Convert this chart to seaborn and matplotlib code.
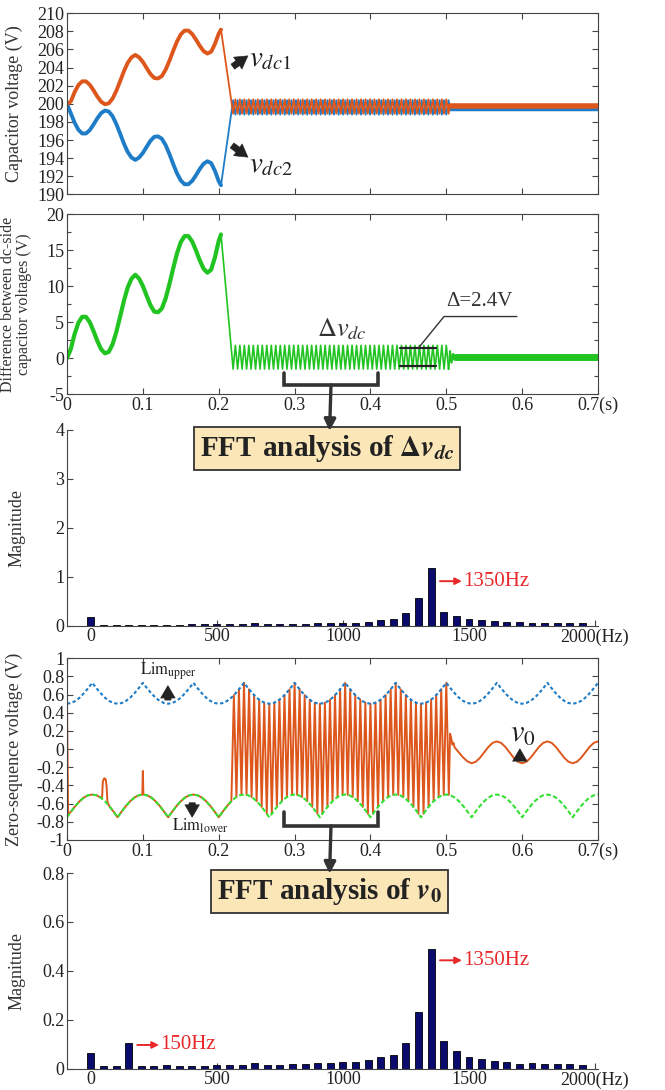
import numpy as np
import matplotlib
matplotlib.use("Agg")
import matplotlib.pyplot as plt
import seaborn as sns

# ------------------------------------------------------------------ data
# Panel 1/2 : early transient (0 - 0.203 s)
t_early = [0.000, 0.005, 0.010, 0.015, 0.020, 0.025, 0.030, 0.035, 0.040, 0.045,
           0.050, 0.055, 0.060, 0.065, 0.070, 0.075, 0.080, 0.085, 0.090, 0.095,
           0.100, 0.105, 0.110, 0.115, 0.120, 0.125, 0.130, 0.135, 0.140, 0.145,
           0.150, 0.155, 0.160, 0.165, 0.170, 0.175, 0.180, 0.185, 0.190, 0.195,
           0.200, 0.203]
vdc1_early = [200.0, 200.25, 201.28, 202.07, 202.48, 202.48, 202.11, 201.49, 200.80, 200.23,
              199.95, 200.05, 200.56, 201.43, 202.49, 203.59, 204.52, 205.13, 205.40, 205.14,
              204.63, 203.95, 203.29, 202.85, 202.80, 203.06, 203.76, 204.75, 205.85, 206.89,
              207.67, 208.09, 208.09, 207.72, 207.10, 206.41, 205.83, 205.55, 205.75, 206.60,
              207.75, 208.20]
vdc2_early = [200.0, 198.95, 197.92, 197.13, 196.72, 196.72, 197.09, 197.71, 198.40, 198.97,
              199.25, 199.15, 198.64, 197.77, 196.71, 195.61, 194.68, 194.07, 193.80, 194.06,
              194.57, 195.25, 195.91, 196.35, 196.40, 196.14, 195.44, 194.45, 193.35, 192.31,
              191.53, 191.11, 191.11, 191.48, 192.10, 192.79, 193.37, 193.65, 193.45, 192.60,
              191.45, 191.00]
dvdc_early = [0.00, 1.29, 3.36, 4.93, 5.76, 5.76, 5.02, 3.78, 2.40, 1.26,
              0.69, 0.89, 1.92, 3.65, 5.78, 7.97, 9.83, 11.05, 11.60, 11.07,
              10.05, 8.69, 7.38, 6.49, 6.40, 6.91, 8.31, 10.29, 12.50, 14.57,
              16.14, 16.97, 16.97, 16.23, 14.99, 13.61, 12.46, 11.89, 12.30, 14.00,
              16.30, 17.20]

# oscillating interval (0.219 - 0.503 s): alternating trough / peak values
t_osc = np.linspace(0.219, 0.503, 97)
vdc1_osc = [198.9, 200.5] * 48 + [198.9]
vdc2_osc = [200.4, 198.8] * 48 + [200.4]
dvdc_osc = [-1.5, 1.8] * 48 + [-1.5]

# settled interval (0.505 - 0.7 s)
t_tail = [0.505, 0.700]
vdc1_tail = [199.75, 199.75]
vdc2_tail = [199.42, 199.42]
t_dv_settle = [0.505, 0.507, 0.509, 0.511]
dvdc_settle = [1.0, -0.6, 0.6, 0.2]
t_dv_tail = [0.511, 0.700]
dvdc_tail = [0.2, 0.2]

# Panel 4 : limits (one period of 1/15 s, sampled 12 times, repeated)
t_lim = np.linspace(0.0, 0.7, 127)
upper_cycle = [0.500, 0.508, 0.531, 0.567, 0.615, 0.670, 0.730, 0.670, 0.615, 0.567, 0.531, 0.508]
lower_cycle = [-0.750, -0.685, -0.625, -0.573, -0.533, -0.508, -0.500, -0.508, -0.533, -0.573, -0.625, -0.685]
lim_upper = np.tile(upper_cycle, 11)[:127]
lim_lower = np.tile(lower_cycle, 11)[:127]

# Panel 4 : zero-sequence voltage v0
t_v0_pre = [0.0, 0.0015, 0.00556, 0.01111, 0.01667, 0.02222, 0.02778, 0.03333, 0.03889, 0.04444,
            0.0462, 0.0472, 0.0490, 0.0510, 0.0523, 0.0533, 0.05556, 0.06111, 0.06667, 0.07222,
            0.07778, 0.08333, 0.08889, 0.09444, 0.0993, 0.1000, 0.1007, 0.10556, 0.11111, 0.11667,
            0.12222, 0.12778, 0.13333, 0.13889, 0.14444, 0.15, 0.15556, 0.16111, 0.16667, 0.17222,
            0.17778, 0.18333, 0.18889, 0.19444, 0.2, 0.20556, 0.21111]
v0_pre = [0.5, -0.72, -0.685, -0.625, -0.573, -0.533, -0.508, -0.5, -0.508, -0.533,
          -0.545, -0.36, -0.32, -0.33, -0.42, -0.58, -0.625, -0.685, -0.75, -0.685,
          -0.625, -0.573, -0.533, -0.508, -0.5, -0.24, -0.5, -0.508, -0.533, -0.573,
          -0.625, -0.685, -0.75, -0.685, -0.625, -0.573, -0.533, -0.508, -0.5, -0.508,
          -0.533, -0.573, -0.625, -0.685, -0.75, -0.685, -0.625]
t_v0_osc = np.linspace(0.21667, 0.50333, 87)
v0_osc_cycle = [-0.573, 0.595, -0.527, 0.659, -0.503, 0.730, -0.503, 0.659, -0.527, 0.595,
                -0.573, 0.544, -0.636, 0.511, -0.711, 0.500, -0.711, 0.511, -0.636, 0.544]
v0_osc = np.tile(v0_osc_cycle, 5)[:87]
t_v0_post = [0.505, 0.5065, 0.508, 0.5095, 0.511, 0.516, 0.522, 0.528]
v0_post = [0.17, 0.12, 0.05, 0.07, 0.02, -0.03, -0.09, -0.135]
t_v0_sin = np.linspace(0.53333, 0.7, 31)
v0_sin_cycle = [-0.155, -0.139, -0.095, -0.035, 0.025, 0.069, 0.085, 0.069, 0.025, -0.035, -0.095, -0.139]
v0_sin = np.tile(v0_sin_cycle, 3)[:31]

# FFT spectra
freq = np.arange(0, 2000, 50)
mag_dvdc = [0.17, 0.02, 0.02, 0.02, 0.02, 0.02, 0.02, 0.02, 0.025, 0.025,
            0.03, 0.03, 0.03, 0.045, 0.035, 0.035, 0.04, 0.04, 0.045, 0.05,
            0.06, 0.06, 0.08, 0.11, 0.14, 0.26, 0.56, 1.18, 0.28, 0.19,
            0.13, 0.11, 0.09, 0.07, 0.07, 0.065, 0.06, 0.06, 0.055, 0.05]
mag_v0 = [0.065, 0.01, 0.01, 0.105, 0.01, 0.012, 0.015, 0.012, 0.012, 0.012,
          0.015, 0.015, 0.015, 0.022, 0.016, 0.016, 0.02, 0.018, 0.022, 0.025,
          0.027, 0.027, 0.035, 0.048, 0.058, 0.105, 0.23, 0.49, 0.112, 0.072,
          0.048, 0.04, 0.033, 0.028, 0.02, 0.022, 0.02, 0.018, 0.018, 0.015]

time_ticks = [0, 0.1, 0.2, 0.3, 0.4, 0.5, 0.6, 0.7]
time_labels = ['0', '0.1', '0.2', '0.3', '0.4', '0.5', '0.6', '0.7(s)']
freq_ticks = [0, 500, 1000, 1500, 2000]
freq_labels = ['0', '500', '1000', '1500', '2000(Hz)']

# ------------------------------------------------------------------ style
sns.set_style('ticks')
plt.rcParams['font.family'] = ['Liberation Serif', 'DejaVu Serif']
plt.rcParams['mathtext.fontset'] = 'stix'
plt.rcParams['axes.unicode_minus'] = False
plt.rcParams['axes.edgecolor'] = '#444444'
plt.rcParams['axes.linewidth'] = 0.8
plt.rcParams['xtick.color'] = '#444444'
plt.rcParams['ytick.color'] = '#444444'
plt.rcParams['xtick.labelcolor'] = '#222222'
plt.rcParams['ytick.labelcolor'] = '#222222'

ORANGE = '#DD571C'
BLUE = '#1F7CC6'
GREEN = '#22C422'
LGREEN = '#33E033'
NAVY = '#0B0B6E'
RED = '#E8282B'
DARK = '#333333'

W, H = 665, 1090
fig = plt.figure(figsize=(W / 100, H / 100), dpi=100)


def axes_px(top, bottom, left=67, right=598):
    return fig.add_axes([left / W, 1 - bottom / H, (right - left) / W, (bottom - top) / H])


ax1 = axes_px(13.3, 194.3)
ax2 = axes_px(214.3, 394.3)
ax3 = axes_px(430, 625.7)
ax4 = axes_px(658.3, 840)
ax5 = axes_px(873, 1068.7)

LBL = dict(fontsize=13, color='#333333')
TICKSIZE = 13


def time_axes(ax, ylim, yticks, ylabels, labels=True):
    ax.set_xlim(0, 0.7)
    ax.set_ylim(*ylim)
    ax.set_xticks(time_ticks)
    ax.set_xticklabels(time_labels if labels else [])
    ax.set_yticks(yticks)
    ax.set_yticklabels(ylabels)
    ax.tick_params(direction='in', top=True, right=True, length=4, width=0.8,
                   labelsize=TICKSIZE, pad=2)


def line(ax, x, y, color, lw, **kw):
    sns.lineplot(x=np.asarray(x, float), y=np.asarray(y, float), ax=ax, color=color,
                 lw=lw, estimator=None, sort=False, legend=False, **kw)


def block_arrow(ax, start, end, scale=15, color='#222222'):
    ax.annotate('', xy=end, xytext=start,
                arrowprops=dict(arrowstyle='simple,head_length=0.6,head_width=0.7,tail_width=0.3',
                                fc=color, ec=color, lw=0.4, mutation_scale=scale,
                                shrinkA=0, shrinkB=0))


# ------------------------------------------------------------------ panel 1
t_main = list(t_early) + list(t_osc) + [0.505]
line(ax1, t_main, vdc2_early + vdc2_osc + [199.45], BLUE, 1.3)
line(ax1, t_tail, vdc2_tail, BLUE, 2.5)
line(ax1, t_main, vdc1_early + vdc1_osc + [199.85], ORANGE, 1.3)
line(ax1, t_tail, vdc1_tail, ORANGE, 4.0)
line(ax1, t_early, vdc2_early, BLUE, 2.8)
line(ax1, t_early, vdc1_early, ORANGE, 2.8)
time_axes(ax1, (190, 210), list(range(190, 211, 2)), [str(v) for v in range(190, 211, 2)], labels=False)
ax1.set_ylabel('Capacitor voltage (V)', **LBL)
ax1.yaxis.set_label_coords(-0.082, 0.5)
ax1.set_xlabel('')
block_arrow(ax1, (0.2185, 204.1), (0.2385, 205.3))
block_arrow(ax1, (0.2175, 195.4), (0.2385, 194.1))
ax1.text(0.240, 204.9, r'$v_{dc1}$', fontsize=21, ha='left', va='center', color='#222222')
ax1.text(0.240, 193.2, r'$v_{dc2}$', fontsize=21, ha='left', va='center', color='#222222')

# ------------------------------------------------------------------ panel 2
line(ax2, list(t_early) + list(t_osc), dvdc_early + dvdc_osc, GREEN, 1.2)
line(ax2, t_early, dvdc_early, GREEN, 3.0)
line(ax2, [0.503] + t_dv_settle, [-1.5] + dvdc_settle, GREEN, 1.5)
line(ax2, t_dv_tail, dvdc_tail, GREEN, 5.0)
time_axes(ax2, (-5, 20), [-5, 0, 5, 10, 15, 20], ['-5', '0', '5', '10', '15', '20'])
ax2.yaxis.set_minor_locator(matplotlib.ticker.MultipleLocator(2.5))
ax2.tick_params(which='minor', direction='in', right=True, length=3, width=0.8)
ax2.set_ylabel('Difference between dc-side\ncapacitor voltages (V)', linespacing=1.0,
               fontsize=11.5, color='#333333')
ax2.yaxis.set_label_coords(-0.066, 0.5)
ax2.set_xlabel('')
ax2.text(0.362, 4.0, r'$\Delta v_{dc}$', fontsize=19, ha='center', va='center', color='#333333')
ax2.plot([0.439, 0.486], [1.4, 1.4], color='#222222', lw=1.6)
ax2.plot([0.439, 0.486], [-1.0, -1.0], color='#222222', lw=1.6)
ax2.plot([0.463, 0.497, 0.593], [1.4, 5.8, 5.8], color='#333333', lw=1.0)
ax2.text(0.544, 7.9, 'Δ=2.4V', fontsize=15, ha='center', va='center', color='#333333')
ax2.plot([0.286, 0.286, 0.41, 0.41], [-2.1, -3.7, -3.7, -2.1], color=DARK, lw=2.6,
         solid_joinstyle='miter', clip_on=False)

# ------------------------------------------------------------------ panel 3 (FFT of dv)
sns.barplot(x=freq, y=mag_dvdc, ax=ax3, native_scale=True, width=0.55, color=NAVY,
            saturation=1, edgecolor='black', linewidth=0.6, errorbar=None)


def fft_axes(ax, ylim, yticks, ylabels):
    ax.set_xlim(-95, 2012)
    ax.set_ylim(*ylim)
    ax.set_xticks(freq_ticks)
    ax.set_xticklabels(freq_labels)
    ax.set_yticks(yticks)
    ax.set_yticklabels(ylabels)
    sns.despine(ax=ax)
    ax.tick_params(direction='in', length=4, width=0.8, labelsize=TICKSIZE, pad=2)
    ax.set_ylabel('Magnitude', **LBL)
    ax.yaxis.set_label_coords(-0.078, 0.5)
    ax.set_xlabel('')


fft_axes(ax3, (0, 4), [0, 1, 2, 3, 4], ['0', '1', '2', '3', '4'])
BOX = dict(boxstyle='square,pad=0.2', fc='#FBE6B8', ec='#333333', lw=1.3)
ax3.text(938, 3.62, r'FFT analysis of $\mathbf{\Delta}\boldsymbol{v}_{\boldsymbol{dc}}$',
         fontsize=21, fontweight='bold', ha='center', va='center', color='#222222', bbox=BOX)
ax3.annotate('', xy=(947, 3.98), xycoords='data', xytext=(0.348, -3.7), textcoords=ax2.transData,
             arrowprops=dict(arrowstyle='-|>', color=DARK, lw=2.4, mutation_scale=17,
                             shrinkA=0, shrinkB=0), annotation_clip=False)
ax3.annotate('', xy=(1472, 0.91), xytext=(1385, 0.91),
             arrowprops=dict(arrowstyle='-|>', color=RED, lw=1.4, mutation_scale=10, shrinkA=0, shrinkB=0))
ax3.text(1478, 0.91, '1350Hz', color=RED, fontsize=15, ha='left', va='center')

# ------------------------------------------------------------------ panel 4
t_v0 = list(t_v0_pre) + list(t_v0_osc) + list(t_v0_post) + list(t_v0_sin)
v0 = list(v0_pre) + list(v0_osc) + list(v0_post) + list(v0_sin)
line(ax4, t_v0, v0, ORANGE, 1.4)
line(ax4, t_lim, lim_upper, BLUE, 1.5, linestyle=(0, (1.6, 1.2)))
line(ax4, t_lim, lim_lower, LGREEN, 1.5, linestyle=(0, (2.2, 1.2)))
time_axes(ax4, (-1, 1), [-1, -0.8, -0.6, -0.4, -0.2, 0, 0.2, 0.4, 0.6, 0.8, 1],
          ['-1', '-0.8', '-0.6', '-0.4', '-0.2', '0', '0.2', '0.4', '0.6', '0.8', '1'])
ax4.set_ylabel('Zero-sequence voltage (V)', **LBL)
ax4.yaxis.set_label_coords(-0.082, 0.5)
ax4.set_xlabel('')
ax4.text(0.096, 0.86, r'$\mathrm{Lim}_{\mathrm{upper}}$', fontsize=12, ha='left', va='center', color='#222222')
block_arrow(ax4, (0.133, 0.54), (0.133, 0.70), scale=15)
ax4.text(0.138, -0.84, r'$\mathrm{Lim}_{\mathrm{lower}}$', fontsize=12, ha='left', va='center', color='#222222')
block_arrow(ax4, (0.165, -0.59), (0.165, -0.75), scale=15)
ax4.text(0.601, 0.16, r'$v_0$', fontsize=22, ha='center', va='center', color='#222222')
block_arrow(ax4, (0.597, -0.13), (0.597, 0.005), scale=15)
ax4.plot([0.286, 0.286, 0.41, 0.41], [-0.695, -0.846, -0.846, -0.695], color=DARK, lw=2.6,
         solid_joinstyle='miter', clip_on=False)

# ------------------------------------------------------------------ panel 5 (FFT of v0)
sns.barplot(x=freq, y=mag_v0, ax=ax5, native_scale=True, width=0.55, color=NAVY,
            saturation=1, edgecolor='black', linewidth=0.6, errorbar=None)
fft_axes(ax5, (0, 0.8), [0, 0.2, 0.4, 0.6, 0.8], ['0', '0.2', '0.4', '0.6', '0.8'])
ax5.text(947, 0.725, r'FFT analysis of $\boldsymbol{v}_{\boldsymbol{0}}$',
         fontsize=21, fontweight='bold', ha='center', va='center', color='#222222', bbox=BOX)
ax5.annotate('', xy=(947, 0.797), xycoords='data', xytext=(0.348, -0.846), textcoords=ax4.transData,
             arrowprops=dict(arrowstyle='-|>', color=DARK, lw=2.4, mutation_scale=17,
                             shrinkA=0, shrinkB=0), annotation_clip=False)
ax5.annotate('', xy=(1472, 0.443), xytext=(1385, 0.443),
             arrowprops=dict(arrowstyle='-|>', color=RED, lw=1.4, mutation_scale=10, shrinkA=0, shrinkB=0))
ax5.text(1478, 0.443, '1350Hz', color=RED, fontsize=15, ha='left', va='center')
ax5.annotate('', xy=(270, 0.097), xytext=(184, 0.097),
             arrowprops=dict(arrowstyle='-|>', color=RED, lw=1.4, mutation_scale=10, shrinkA=0, shrinkB=0))
ax5.text(276, 0.097, '150Hz', color=RED, fontsize=15, ha='left', va='center')

fig.savefig('out.png', dpi=100)
